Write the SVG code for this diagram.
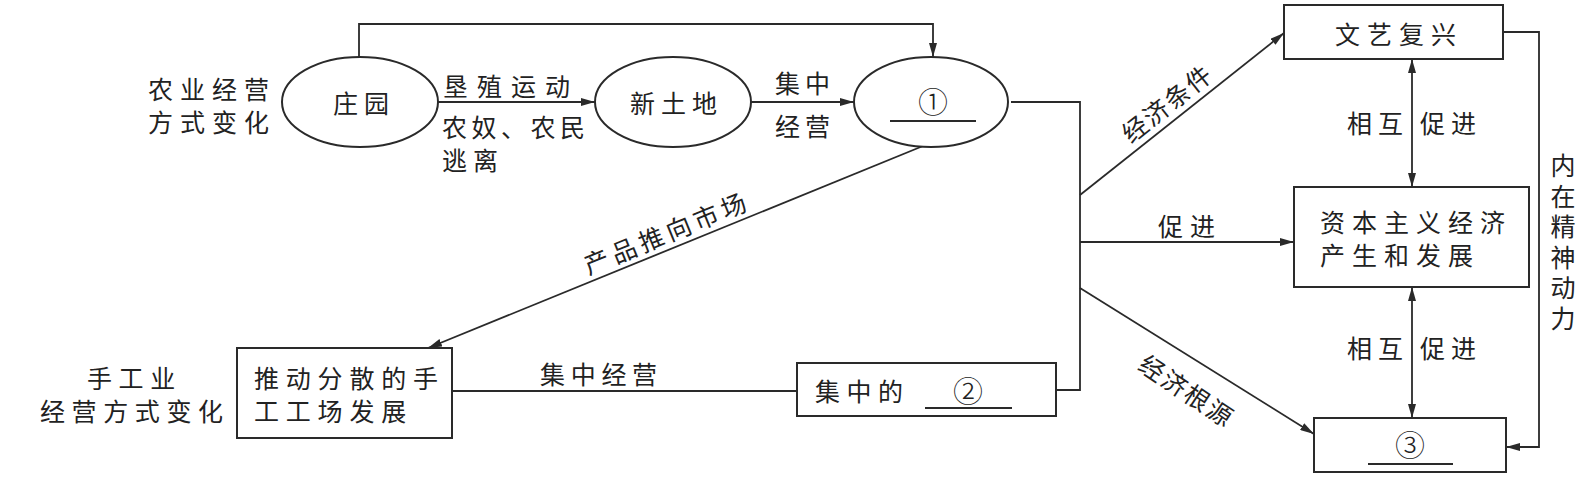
<svg xmlns="http://www.w3.org/2000/svg" width="1591" height="488" viewBox="0 0 1591 488">
<style>
  .t { font-family: "Noto Sans CJK SC", "Noto Sans", sans-serif; font-size: 25px; fill: #222; dominant-baseline: central; font-weight: 400; }
  .num { font-family: "Noto Sans CJK SC", "DejaVu Sans", sans-serif; font-size: 30px; fill: #222; dominant-baseline: central; text-anchor: middle; font-weight: 300; }
  .vt { font-family: "Noto Sans CJK SC", "Noto Sans", sans-serif; font-size: 25px; fill: #222; writing-mode: vertical-rl; dominant-baseline: central; }
  .shape { fill: #fff; stroke: #2a2a2a; stroke-width: 2; }
  .ln { fill: none; stroke: #2a2a2a; stroke-width: 1.8; }
  .arr { marker-end: url(#ah); }
  .dbl { marker-end: url(#ah); marker-start: url(#ah); }
  .blank { stroke: #2a2a2a; stroke-width: 2; }
</style>
<defs>
  <marker id="ah" viewBox="0 0 14 8" refX="14" refY="4" markerWidth="14" markerHeight="8" markerUnits="userSpaceOnUse" orient="auto-start-reverse">
    <path d="M0,0 L14,4 L0,8 z" fill="#2a2a2a"/>
  </marker>
</defs>
<rect width="1591" height="488" fill="#fff"/>

<g id="connectors">
  <polyline class="ln arr" points="359,57 359,24 933,24 933,57"/>
  <line class="ln arr" x1="438" y1="102" x2="595" y2="102"/>
  <line class="ln arr" x1="751" y1="102" x2="854" y2="102"/>
  <polyline class="ln" points="1011,102 1080,102 1080,390 1056,390"/>
  <line class="ln arr" x1="1080" y1="195" x2="1284" y2="33"/>
  <line class="ln arr" x1="1080" y1="242" x2="1294" y2="242"/>
  <line class="ln arr" x1="1080" y1="288" x2="1314" y2="434"/>
  <line class="ln arr" x1="923" y1="146" x2="428" y2="348"/>
  <line class="ln" x1="452" y1="391" x2="797" y2="391"/>
  <line class="ln dbl" x1="1412" y1="59" x2="1412" y2="187"/>
  <line class="ln dbl" x1="1412" y1="287" x2="1412" y2="418"/>
  <polyline class="ln arr" points="1503,32 1539,32 1539,447 1506,447"/>
</g>

<g id="edge-labels">
  <text class="t" x="443" y="85" letter-spacing="9">垦殖运动</text>
  <text class="t" letter-spacing="4.5"><tspan x="442" y="126">农奴、农民</tspan><tspan x="442" y="159" letter-spacing="6">逃离</tspan></text>
  <text class="t" letter-spacing="5"><tspan x="775" y="82">集中</tspan><tspan x="775" y="125">经营</tspan></text>
  <text class="t" transform="translate(665,232) rotate(-22.2)" x="-87" y="0" letter-spacing="4.5">产品推向市场</text>
  <text class="t" x="540" y="373" letter-spacing="5.7">集中经营</text>
  <text class="t" transform="translate(1164,104) rotate(-38.5)" x="-51" y="0" letter-spacing="2">经济条件</text>
  <text class="t" x="1158" y="225" letter-spacing="7">促进</text>
  <text class="t" transform="translate(1185,388) rotate(33.6)" x="-51" y="0" letter-spacing="2">经济根源</text>
  <text class="t" x="1347" y="122" letter-spacing="6">相互</text>
  <text class="t" x="1420" y="122" letter-spacing="6">促进</text>
  <text class="t" x="1347" y="347" letter-spacing="6">相互</text>
  <text class="t" x="1420" y="347" letter-spacing="6">促进</text>
  <text class="vt" x="1563" y="153" letter-spacing="5.5">内在精神动力</text>
</g>

<g id="label-agri">
  <text class="t" letter-spacing="7"><tspan x="148" y="88">农业经营</tspan><tspan x="148" y="121">方式变化</tspan></text>
</g>

<g id="label-craft">
  <text class="t" letter-spacing="6.6"><tspan x="87" y="377">手工业</tspan><tspan x="40" y="410">经营方式变化</tspan></text>
</g>

<g id="node-zhuangyuan">
  <ellipse class="shape" cx="360" cy="102" rx="78" ry="45"/>
  <text class="t" x="333" y="102" letter-spacing="6">庄园</text>
</g>

<g id="node-xintudi">
  <ellipse class="shape" cx="673" cy="102" rx="78" ry="45"/>
  <text class="t" x="630" y="102" letter-spacing="6">新土地</text>
</g>

<g id="node-1">
  <ellipse class="shape" cx="931" cy="102" rx="77" ry="45"/>
  <text class="num" x="933" y="100">①</text>
  <line class="blank" x1="890" y1="121" x2="976" y2="121"/>
</g>

<g id="node-tuidong">
  <rect class="shape" x="237" y="348" width="215" height="90"/>
  <text class="t" letter-spacing="6.8"><tspan x="254" y="377">推动分散的手</tspan><tspan x="254" y="410">工工场发展</tspan></text>
</g>

<g id="node-2">
  <rect class="shape" x="797" y="363" width="259" height="53"/>
  <text class="t" x="815" y="390" letter-spacing="6.5">集中的</text>
  <text class="num" x="968" y="389">②</text>
  <line class="blank" x1="925" y1="408" x2="1012" y2="408"/>
</g>

<g id="node-wenyi">
  <rect class="shape" x="1284" y="5" width="219" height="54"/>
  <text class="t" x="1335" y="33" letter-spacing="7">文艺复兴</text>
</g>

<g id="node-ziben">
  <rect class="shape" x="1294" y="187" width="235" height="100"/>
  <text class="t" letter-spacing="7"><tspan x="1320" y="221">资本主义经济</tspan><tspan x="1320" y="254">产生和发展</tspan></text>
</g>

<g id="node-3">
  <rect class="shape" x="1314" y="418" width="192" height="54"/>
  <text class="num" x="1410" y="443">③</text>
  <line class="blank" x1="1368" y1="464" x2="1453" y2="464"/>
</g>
</svg>
